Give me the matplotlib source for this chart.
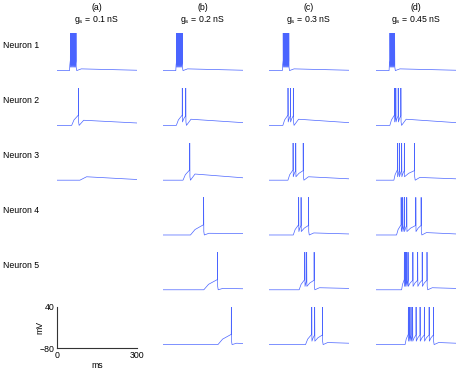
import matplotlib
matplotlib.use("Agg")
import matplotlib.pyplot as plt

plt.rcParams['font.family'] = ['Liberation Sans', 'DejaVu Sans']

col_tags = ['(a)', '(b)', '(c)', '(d)']
g_s = ['0.1', '0.2', '0.3', '0.45']
neurons = ['Neuron 1', 'Neuron 2', 'Neuron 3', 'Neuron 4', 'Neuron 5']

rest = -70
# start of depolarisation (ms), rows = neuron 1..5 + bottom row, cols = (a)..(d)
onset = [
    [47, 48, 50, 49],
    [55, 50, 52, 52],
    [86, 75, 71, 67],
    [None, 103, 91, 77],
    [None, 153, 113, 96],
    [None, 206, 137, 109],
]
# spike times (ms)
spikes = [
    [[50, 53.5, 57, 60.5, 64, 67.5, 71], [51, 54.5, 58, 61.5, 65, 68.5, 72],
     [53, 56.5, 60, 63.5, 67, 70.5, 74], [52, 55.5, 59, 62.5, 66, 69.5]],
    [[80], [72, 85], [71, 80, 91], [69, 74, 83, 93]],
    [[], [100], [90, 100, 128], [80, 87, 96, 106, 144]],
    [[], [152], [111, 120, 148], [94, 100, 106, 115, 149, 169]],
    [[], [204], [134, 141, 169], [106, 110, 115, 120, 138, 156, 173, 191]],
    [[], [256], [160, 171, 200], [121, 126, 131, 137, 150, 165, 181, 199, 215]],
]
# after-depolarisation peak and level at 300 ms (mV)
post_peak = [
    [-65, -65, -65, -65],
    [-55, -52, -52, -52],
    [-60, -52, -60, -62],
    [None, -65, -64, -63],
    [None, -66, -64, -64],
    [None, -66, -64, -64],
]
post_end = [
    [-69, -69, -69, -69],
    [-63, -62, -62, -62],
    [-68, -63, -66, -66],
    [None, -66, -67, -67],
    [None, -67, -66, -66],
    [None, -67, -66, -66],
]


def trace(t_on, spk, peak, end):
    t = [0, t_on]
    v = [rest, rest]
    if not spk:
        t += [t_on + 25, 300]
        v += [peak, end]
        return t, v
    d = spk[0] - t_on
    t += [t_on + 0.35 * d, spk[0]]
    v += [-54, -40]
    for i, ts in enumerate(spk):
        t += [ts + 0.3, ts + 1.0]
        v += [40, -60]
        if i + 1 < len(spk):
            gap = spk[i + 1] - ts
            if gap > 8:
                t.append(ts + 1 + 0.4 * gap)
                v.append(-50)
            t.append(spk[i + 1])
            v.append(-42)
    last = spk[-1]
    t += [last + 3, last + 20, 300]
    v += [-70, peak, end]
    return t, v


fig = plt.figure(figsize=(4.6, 3.74), dpi=100)
W, H = 460.0, 374.0
col_x = [57, 163, 269, 376]
row_y = [74, 128.8, 183.6, 238.4, 293.2, 348]
aw, ah = 80, 41

for r in range(6):
    for c in range(4):
        ax = fig.add_axes([col_x[c] / W, 1 - row_y[r] / H, aw / W, ah / H])
        ax.set_xlim(0, 300)
        ax.set_ylim(-80, 40)
        if r == 5 and c == 0:
            for s in ['top', 'right']:
                ax.spines[s].set_visible(False)
            for s in ['left', 'bottom']:
                ax.spines[s].set_color('#333333')
                ax.spines[s].set_linewidth(0.8)
            ax.set_xticks([0, 300])
            ax.set_yticks([-80, 40])
            ax.tick_params(length=0, labelsize=6.3, pad=2)
            ax.set_xlabel('ms', fontsize=6.3, labelpad=1)
            ax.set_ylabel('mV', fontsize=6.3, labelpad=-4)
            continue
        ax.axis('off')
        if onset[r][c] is None:
            continue
        t, v = trace(onset[r][c], spikes[r][c], post_peak[r][c], post_end[r][c])
        ax.plot(t, v, color='#4a64ff', lw=0.5)

for r in range(5):
    fig.text(3 / W, 1 - (row_y[r] - 28) / H, neurons[r], fontsize=6.3,
             va='center', ha='left')

for c in range(4):
    xc = (col_x[c] + aw / 2) / W
    fig.text(xc, 1 - 8 / H, col_tags[c], fontsize=6.3, ha='center', va='center')
    fig.text(xc, 1 - 19.5 / H, 'g$_\\mathregular{s}$ = ' + g_s[c] + ' nS',
             fontsize=6.3, ha='center', va='center')

fig.savefig('out.png', dpi=100)
